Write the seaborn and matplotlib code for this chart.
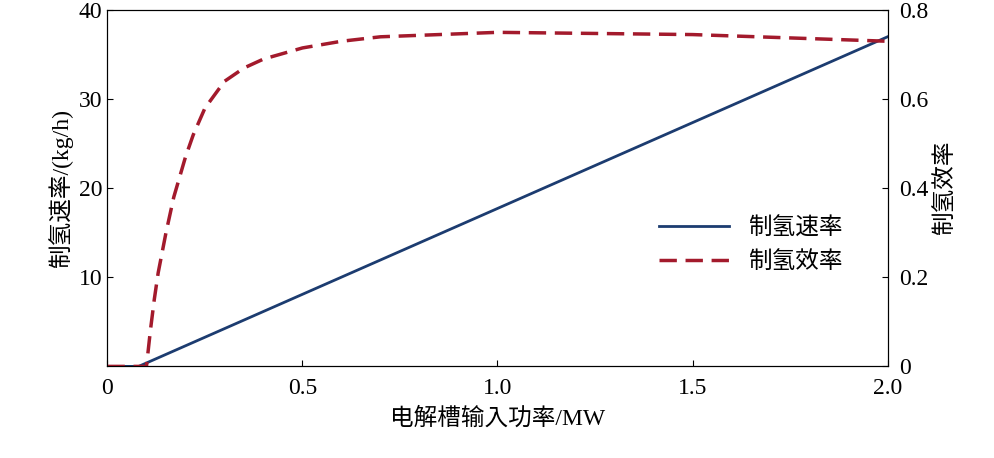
import numpy as np
import pandas as pd
import seaborn as sns
import matplotlib.pyplot as plt

# 数据
power_rate = [0.0, 0.08, 2.0]
rate_kg = [0.0, 0.0, 37.0]
power_eff = [0.0, 0.1, 0.11, 0.12, 0.13, 0.15, 0.17, 0.2, 0.22, 0.25, 0.3, 0.35, 0.4,
             0.5, 0.6, 0.7, 1.0, 1.5, 2.0]
eff = [0.0, 0.0, 0.08, 0.15, 0.21, 0.30, 0.38, 0.47, 0.52, 0.58, 0.64, 0.67, 0.69,
       0.715, 0.73, 0.74, 0.75, 0.745, 0.73]

plt.rcParams["font.family"] = ["Liberation Serif", "Noto Sans CJK SC", "Noto Sans CJK JP"]
plt.rcParams["font.size"] = 17

blue = "#1c3c70"
red = "#a31a2c"

fig, ax = plt.subplots(figsize=(9.95, 4.58), dpi=100)
fig.subplots_adjust(left=0.108, right=0.892, top=0.978, bottom=0.2)
ax2 = ax.twinx()

sns.lineplot(x=power_rate, y=rate_kg, ax=ax, color=blue, lw=2, label="制氢速率", legend=False)
sns.lineplot(x=power_eff, y=eff, ax=ax2, color=red, lw=2.5, label="制氢效率", legend=False)
ax2.lines[0].set_linestyle((0, (5, 2.5)))

ax.set_xlim(0, 2.0)
ax.set_ylim(0, 40)
ax2.set_ylim(0, 0.8)
ax.set_xticks([0, 0.5, 1.0, 1.5, 2.0])
ax.set_xticklabels(["0", "0.5", "1.0", "1.5", "2.0"])
ax.set_yticks([10, 20, 30, 40])
ax2.set_yticks([0, 0.2, 0.4, 0.6, 0.8])
ax2.set_yticklabels(["0", "0.2", "0.4", "0.6", "0.8"])
for a in (ax, ax2):
    a.tick_params(direction="in", length=4)
ax.tick_params(axis="x", pad=8)
ax2.tick_params(axis="y", pad=8)
ax.set_xlabel("电解槽输入功率/MW", labelpad=6)
ax.set_ylabel("制氢速率/(kg/h)")
ax2.set_ylabel("制氢效率")

h1, l1 = ax.get_legend_handles_labels()
h2, l2 = ax2.get_legend_handles_labels()
ax2.legend(h1 + h2, l1 + l2, frameon=False, loc="center right",
           bbox_to_anchor=(0.97, 0.34), handlelength=3)

fig.savefig("out.png")
